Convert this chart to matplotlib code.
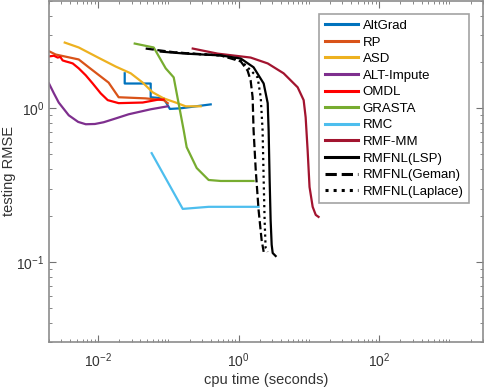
import numpy as np
import matplotlib.pyplot as plt
from matplotlib.ticker import LogLocator, NullFormatter, FixedLocator

plt.rcParams['font.family'] = ['Liberation Sans', 'DejaVu Sans']

# (cpu time in seconds, testing RMSE)
altgrad_t = [0.0239, 0.0239, 0.056, 0.056, 0.0857, 0.105, 0.150, 0.40]
altgrad_e = [1.69, 1.45, 1.45, 1.18, 1.16, 0.99, 1.00, 1.06]

rp_t = [0.00205, 0.00249, 0.0053, 0.00735, 0.0141, 0.0196, 0.0475, 0.0857, 0.0977]
rp_e = [2.34, 2.24, 2.08, 1.85, 1.47, 1.18, 1.16, 1.13, 1.08]

asd_t = [0.00335, 0.0053, 0.010, 0.0178, 0.0291, 0.0431, 0.0598, 0.0857, 0.127, 0.176, 0.288]
asd_e = [2.68, 2.49, 2.14, 1.87, 1.69, 1.47, 1.27, 1.16, 1.09, 1.03, 1.03]

altimp_t = [0.0020, 0.00235, 0.00275, 0.00382, 0.0052, 0.00667, 0.009, 0.012, 0.018, 0.0272, 0.056, 0.0977]
altimp_e = [1.45, 1.25, 1.09, 0.90, 0.815, 0.787, 0.79, 0.811, 0.86, 0.914, 0.985, 1.03]

omdl_t = [0.00205, 0.00235, 0.00266, 0.0029, 0.00313, 0.00346, 0.0039, 0.00435,
          0.0053, 0.00667, 0.00838, 0.0109, 0.0137, 0.0196, 0.0431, 0.0728, 0.0857]
omdl_e = [2.18, 2.20, 2.14, 2.16, 2.05, 2.02, 1.99, 1.96,
          1.82, 1.64, 1.45, 1.25, 1.13, 1.08, 1.09, 1.14, 1.14]

grasta_t = [0.0332, 0.0618, 0.0916, 0.119, 0.165, 0.182, 0.253, 0.374, 0.554, 1.63]
grasta_e = [2.64, 2.49, 1.82, 1.59, 0.720, 0.558, 0.408, 0.341, 0.336, 0.336]

rmc_t = [0.0578, 0.160, 0.374, 1.92]
rmc_e = [0.510, 0.221, 0.228, 0.228]

rmfmm_t = [0.222, 0.503, 1.48, 2.59, 4.36, 6.91, 8.41, 8.98, 9.58, 10.2, 11.3, 12.5, 13.7]
rmfmm_e = [2.45, 2.27, 2.14, 1.96, 1.69, 1.37, 1.13, 0.874, 0.533, 0.307, 0.228, 0.202, 0.196]

lsp_t = [0.0777, 0.176, 0.554, 1.07, 1.63, 2.27, 2.59, 2.67, 2.76, 2.85, 2.95, 3.05, 3.36]
lsp_e = [2.34, 2.27, 2.21, 2.11, 1.85, 1.45, 1.08, 0.720, 0.341, 0.187, 0.129, 0.114, 0.109]

geman_t = [0.0475, 0.127, 0.554, 1.07, 1.34, 1.48, 1.58, 1.63, 1.75, 1.92, 2.12, 2.27]
geman_e = [2.45, 2.31, 2.21, 2.02, 1.76, 1.52, 1.18, 0.720, 0.396, 0.218, 0.139, 0.116]

laplace_t = [0.0857, 0.208, 0.554, 1.07, 1.86, 2.06, 2.19, 2.27, 2.34, 2.42, 2.59]
laplace_e = [2.34, 2.27, 2.21, 2.05, 1.59, 1.18, 0.720, 0.341, 0.187, 0.123, 0.116]

series = [
    (altgrad_t, altgrad_e, 'AltGrad', '#0072BD', '-'),
    (rp_t, rp_e, 'RP', '#D95319', '-'),
    (asd_t, asd_e, 'ASD', '#EDB120', '-'),
    (altimp_t, altimp_e, 'ALT-Impute', '#7E2F8E', '-'),
    (omdl_t, omdl_e, 'OMDL', '#FF0000', '-'),
    (grasta_t, grasta_e, 'GRASTA', '#77AC30', '-'),
    (rmc_t, rmc_e, 'RMC', '#4DBEEE', '-'),
    (rmfmm_t, rmfmm_e, 'RMF-MM', '#A2142F', '-'),
    (lsp_t, lsp_e, 'RMFNL(LSP)', 'k', '-'),
    (geman_t, geman_e, 'RMFNL(Geman)', 'k', '--'),
    (laplace_t, laplace_e, 'RMFNL(Laplace)', 'k', ':'),
]

fig = plt.figure(figsize=(4.84, 3.90), dpi=100)
ax = fig.add_axes([49 / 484, 48 / 390, 434 / 484, 341 / 390])

for t, e, name, col, ls in series:
    ax.plot(t, e, ls, color=col, lw=1.6, label=name)

ax.set_xscale('log')
ax.set_yscale('log')
ax.set_xlim(2e-3, 3e3)
ax.set_ylim(0.03, 5)

ax.xaxis.set_major_locator(FixedLocator([1e-2, 1e0, 1e2]))
ax.xaxis.set_minor_locator(LogLocator(base=10, subs=np.arange(1, 10), numticks=20))
ax.xaxis.set_minor_formatter(NullFormatter())
ax.yaxis.set_major_locator(FixedLocator([1e-1, 1e0]))
ax.yaxis.set_minor_locator(LogLocator(base=10, subs=np.arange(1, 10), numticks=20))
ax.yaxis.set_minor_formatter(NullFormatter())

for s in ax.spines.values():
    s.set_color('0.55')
    s.set_linewidth(1.2)
ax.tick_params(which='both', direction='in', top=True, right=True, color='0.45',
               labelsize=10, labelcolor='0.2')
ax.tick_params(which='major', length=5)
ax.tick_params(which='minor', length=2.5)
ax.tick_params(axis='x', pad=7)

ax.set_xlabel('cpu time (seconds)', fontsize=10.5, color='0.2')
ax.set_ylabel('testing RMSE', fontsize=10.5, color='0.2')
ax.xaxis.set_label_coords(0.5, -0.092)
ax.yaxis.set_label_coords(-0.076, 0.5)

leg = ax.legend(loc='upper right', bbox_to_anchor=(0.983, 0.98), fontsize=9.5,
                handlelength=2.5, handletextpad=0.4, labelspacing=0.33,
                borderpad=0.4, frameon=True, fancybox=False)
leg.get_frame().set_edgecolor('0.55')
leg.get_frame().set_linewidth(1.2)
for line in leg.get_lines():
    line.set_linewidth(2.2)

fig.savefig('out.png', dpi=100)
